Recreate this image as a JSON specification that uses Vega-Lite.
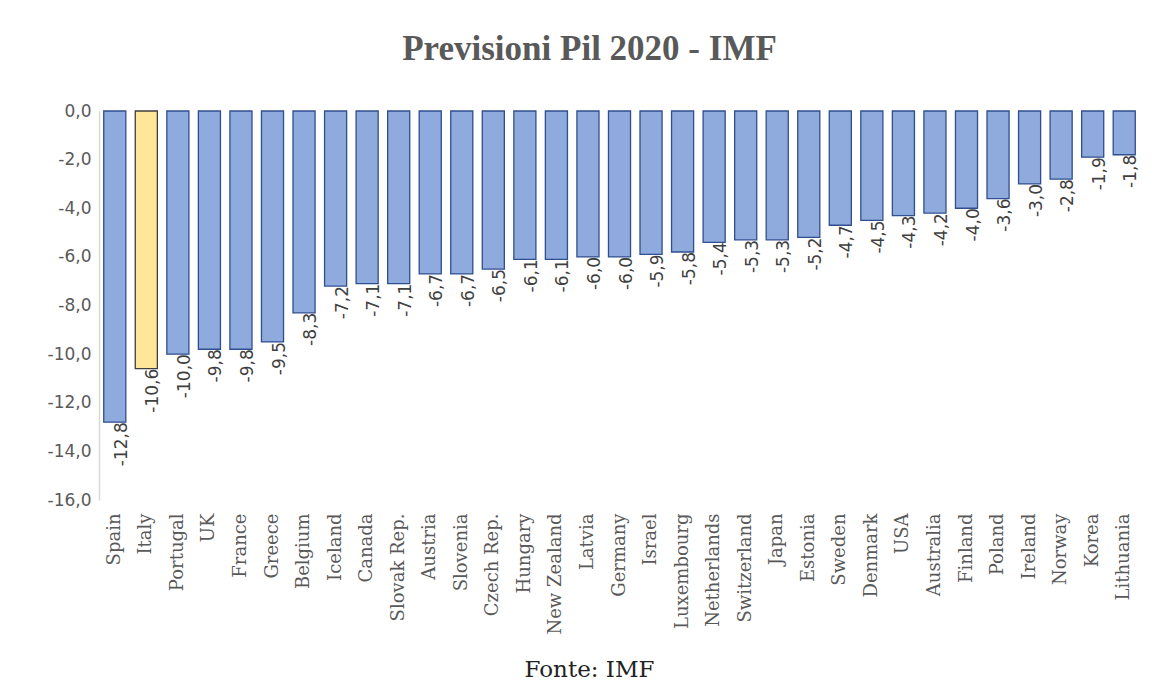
{
  "$schema": "https://vega.github.io/schema/vega-lite/v6.json",
  "width": 1041,
  "height": 389,
  "autosize": {"type": "none"},
  "padding": {"left": 99, "top": 111, "right": 16, "bottom": 186},
  "background": "white",
  "config": {
    "locale": {"number": {"decimal": ",", "thousands": ".", "grouping": [3], "currency": ["€", ""], "minus": "-"}},
    "view": {"stroke": null}
  },
  "title": {
    "text": "Previsioni Pil 2020 - IMF",
    "font": "Liberation Serif",
    "fontSize": 35,
    "fontWeight": "bold",
    "color": "#595959",
    "anchor": "middle",
    "dx": -30,
    "offset": 7,
    "baseline": "alphabetic"
  },
  "data": {
    "values": [
      {"country": "Spain", "value": -12.8},
      {"country": "Italy", "value": -10.6},
      {"country": "Portugal", "value": -10.0},
      {"country": "UK", "value": -9.8},
      {"country": "France", "value": -9.8},
      {"country": "Greece", "value": -9.5},
      {"country": "Belgium", "value": -8.3},
      {"country": "Iceland", "value": -7.2},
      {"country": "Canada", "value": -7.1},
      {"country": "Slovak Rep.", "value": -7.1},
      {"country": "Austria", "value": -6.7},
      {"country": "Slovenia", "value": -6.7},
      {"country": "Czech Rep.", "value": -6.5},
      {"country": "Hungary", "value": -6.1},
      {"country": "New Zealand", "value": -6.1},
      {"country": "Latvia", "value": -6.0},
      {"country": "Germany", "value": -6.0},
      {"country": "Israel", "value": -5.9},
      {"country": "Luxembourg", "value": -5.8},
      {"country": "Netherlands", "value": -5.4},
      {"country": "Switzerland", "value": -5.3},
      {"country": "Japan", "value": -5.3},
      {"country": "Estonia", "value": -5.2},
      {"country": "Sweden", "value": -4.7},
      {"country": "Denmark", "value": -4.5},
      {"country": "USA", "value": -4.3},
      {"country": "Australia", "value": -4.2},
      {"country": "Finland", "value": -4.0},
      {"country": "Poland", "value": -3.6},
      {"country": "Ireland", "value": -3.0},
      {"country": "Norway", "value": -2.8},
      {"country": "Korea", "value": -1.9},
      {"country": "Lithuania", "value": -1.8}
    ]
  },
  "encoding": {
    "x": {
      "field": "country",
      "type": "nominal",
      "sort": null,
      "scale": {"paddingInner": 0.3, "paddingOuter": 0.15},
      "axis": {
        "orient": "bottom",
        "domain": false,
        "ticks": false,
        "labelAngle": 270,
        "labelPadding": 13,
        "labelFont": "DejaVu Serif",
        "labelFontSize": 18,
        "labelColor": "#595959",
        "labelOverlap": false,
        "labelLimit": 300,
        "title": "Fonte: IMF",
        "titleFont": "DejaVu Serif",
        "titleFontSize": 23,
        "titleFontWeight": "normal",
        "titleColor": "#222222",
        "titleX": 490,
        "titleY": 169,
        "titleBaseline": "middle",
        "titleAlign": "center"
      }
    }
  },
  "layer": [
    {
      "mark": {"type": "bar", "strokeWidth": 1.3},
      "encoding": {
        "y": {
          "field": "value",
          "type": "quantitative",
          "scale": {"domain": [-16, 0], "nice": false},
          "axis": {
            "values": [0, -2, -4, -6, -8, -10, -12, -14, -16],
            "format": ".1f",
            "title": null,
            "ticks": false,
            "grid": false,
            "domainColor": "#d9d9d9",
            "domainWidth": 1.5,
            "labelFont": "DejaVu Sans",
            "labelFontSize": 17,
            "labelColor": "#595959",
            "labelPadding": 8
          }
        },
        "fill": {
          "condition": {"test": "datum.country === 'Italy'", "value": "#FFE699"},
          "value": "#8FAADC"
        },
        "stroke": {
          "condition": {"test": "datum.country === 'Italy'", "value": "#3f3f3f"},
          "value": "#2F4F8F"
        }
      }
    },
    {
      "mark": {
        "type": "text",
        "angle": 270,
        "align": "right",
        "baseline": "middle",
        "dy": 7,
        "font": "DejaVu Sans",
        "fontSize": 17,
        "color": "#404040"
      },
      "encoding": {
        "y": {"field": "value", "type": "quantitative"},
        "text": {"field": "value", "type": "quantitative", "format": ".1f"}
      }
    },
    {
      "mark": {"type": "rule", "color": "#d9d9d9", "strokeWidth": 1.5},
      "encoding": {"y": {"datum": 0}}
    }
  ]
}
